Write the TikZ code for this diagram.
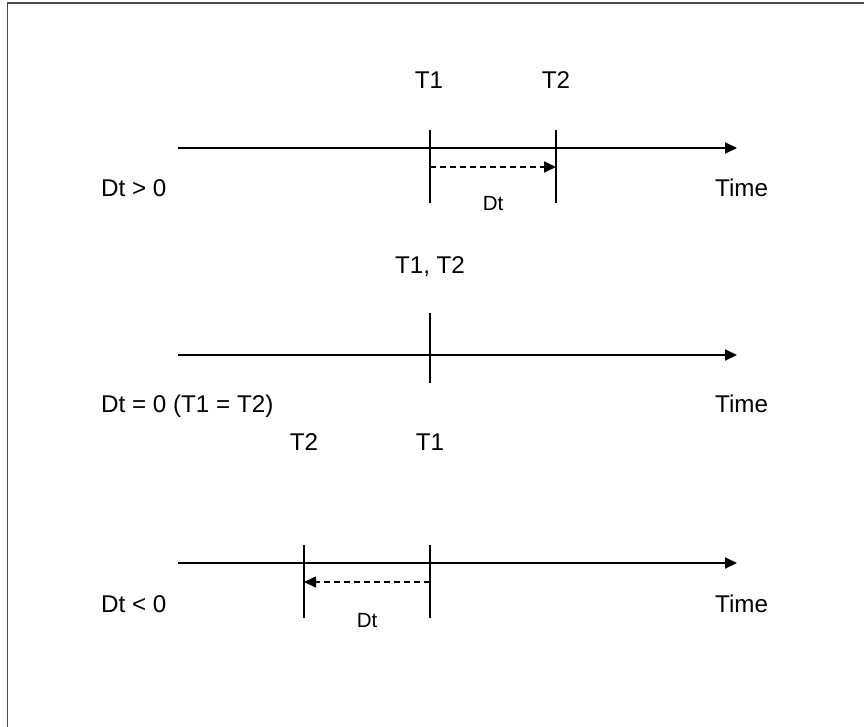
\documentclass[tikz,border=0pt]{standalone}
\usepackage{fontspec}
\setmainfont{Liberation Sans}
\usetikzlibrary{arrows.meta}

\begin{document}
\begin{tikzpicture}[
      x=1pt, y=-1pt,
      axis/.style={draw, line width=1.9pt, -{Triangle[length=12pt,width=11pt]}},
      tick/.style={draw, line width=1.7pt},
      span/.style={draw, line width=1.7pt, dash pattern=on 6pt off 4pt, -{Triangle[length=12pt,width=11pt]}},
      frame/.style={draw=black!70, line width=1.5pt},
      every node/.style={inner sep=0pt, anchor=base, font=\fontsize{24.2}{28}\selectfont},
      small/.style={font=\fontsize{20.5}{24}\selectfont}
    ]
    \useasboundingbox (0,0) rectangle (864,727);
    % outer frame
    \coordinate (f1) at (7.5,740);
    \coordinate (f2) at (7.5,3);
    \coordinate (f3) at (880,3);
    \draw[frame] (f1) -- (f2) -- (f3);

    % Dt > 0
    \coordinate (a0) at (178,148);
    \coordinate (a1) at (737,148);
    \draw[axis] (a0) -- (a1);
    \coordinate (a1top) at (430,130);
    \coordinate (a1bot) at (430,203);
    \coordinate (a2top) at (556,130);
    \coordinate (a2bot) at (556,203);
    \draw[tick] (a1top) -- (a1bot);
    \draw[tick] (a2top) -- (a2bot);
    \coordinate (ad0) at (430,167);
    \coordinate (ad1) at (556,167);
    \draw[span] (ad0) -- (ad1);
    \node (at1) at (429,89) {T1};
    \node (at2) at (556,89) {T2};
    \node[small] (adt) at (493,211) {Dt};
    \node[anchor=base west] (alab) at (101,197) {Dt > 0};
    \node[anchor=base west] (atime) at (715,197) {Time};

    % Dt = 0
    \coordinate (b0) at (178,355);
    \coordinate (b1) at (737,355);
    \draw[axis] (b0) -- (b1);
    \coordinate (btop) at (430,313);
    \coordinate (bbot) at (430,383);
    \draw[tick] (btop) -- (bbot);
    \node (bt) at (430,273) {T1, T2};
    \node[anchor=base west] (blab) at (101,412) {Dt = 0 (T1 = T2)};
    \node[anchor=base west] (btime) at (715,412) {Time};

    % Dt < 0
    \coordinate (c0) at (178,563);
    \coordinate (c1) at (737,563);
    \draw[axis] (c0) -- (c1);
    \coordinate (c1top) at (430,545);
    \coordinate (c1bot) at (430,618);
    \coordinate (c2top) at (304,545);
    \coordinate (c2bot) at (304,618);
    \draw[tick] (c1top) -- (c1bot);
    \draw[tick] (c2top) -- (c2bot);
    \coordinate (cd0) at (430,582);
    \coordinate (cd1) at (304,582);
    \draw[span] (cd0) -- (cd1);
    \node (ct1) at (430,450) {T1};
    \node (ct2) at (304,450) {T2};
    \node[small] (cdt) at (367,627) {Dt};
    \node[anchor=base west] (clab) at (101,612) {Dt < 0};
    \node[anchor=base west] (ctime) at (715,612) {Time};
\end{tikzpicture}
\end{document}
